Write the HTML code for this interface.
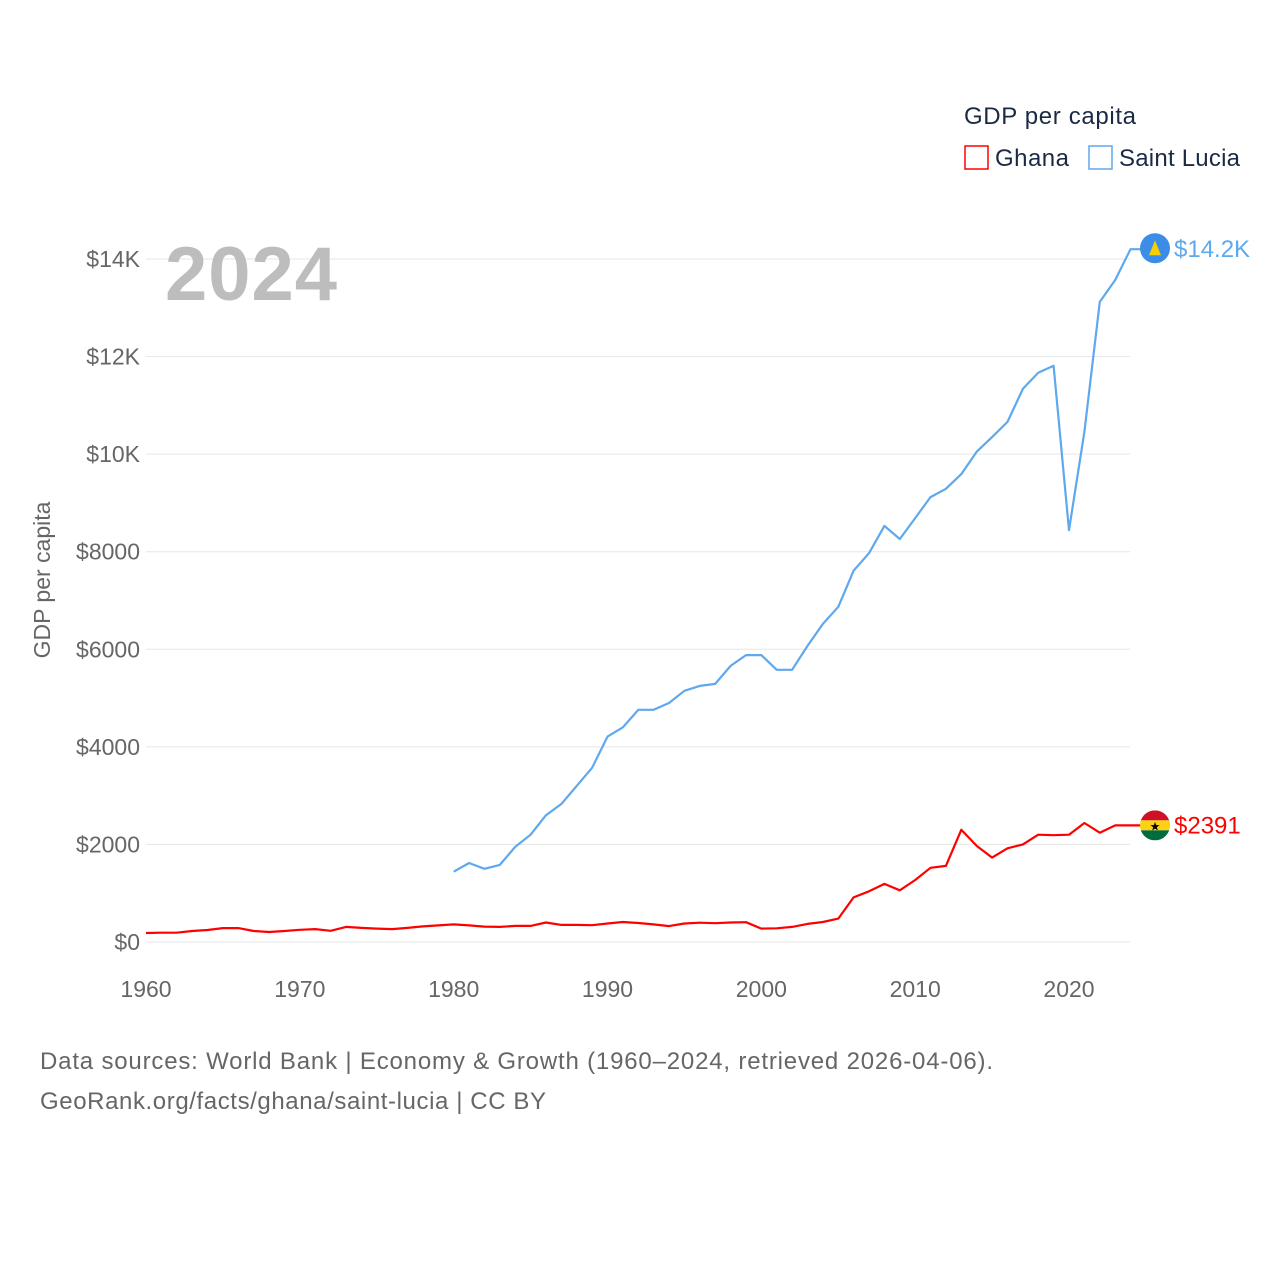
<!DOCTYPE html>
<html><head><meta charset="utf-8"><style>
body{margin:0;background:#fff;width:1280px;height:1280px;overflow:hidden;font-family:"Liberation Sans",sans-serif}
</style></head><body>
<svg width="1280" height="1280" xmlns="http://www.w3.org/2000/svg">
<defs><clipPath id="gc"><circle cx="1155" cy="825" r="15"/></clipPath></defs>
<g id="grid"></g>
<g id="yt"></g>
<g id="xt"></g>
<text x="165" y="300" font-size="76" font-weight="bold" fill="#bdbdbd" textLength="172">2024</text>
<text transform="translate(50,580) rotate(-90)" text-anchor="middle" font-size="23" fill="#666">GDP per capita</text>
<g id="lines"></g>
<text x="964" y="124" font-size="24" fill="#1a2a44" textLength="172">GDP per capita</text>
<g><rect x="965" y="146" width="23" height="23" fill="none" stroke="#ff0000" stroke-width="1.5"/><text x="995" y="166" font-size="24" fill="#1a2a44" textLength="74">Ghana</text></g>
<g><rect x="1089" y="146" width="23" height="23" fill="none" stroke="#5ea8ee" stroke-width="1.5"/><text x="1119" y="166" font-size="24" fill="#1a2a44" textLength="121">Saint Lucia</text></g>
<text x="40" y="1069" font-size="24" fill="#666" textLength="953">Data sources: World Bank | Economy &amp; Growth (1960–2024, retrieved 2026-04-06).</text>
<text x="40" y="1109" font-size="24" fill="#666" textLength="506">GeoRank.org/facts/ghana/saint-lucia | CC BY</text>
</svg>
<script>
const years=[];for(let y=1960;y<=2024;y++)years.push(y);
const ghana=[185,190,190,225,245,285,285,225,205,225,250,265,230,310,290,275,265,290,320,340,360,340,315,310,330,330,400,350,350,345,380,410,390,360,325,380,395,385,400,405,275,280,310,370,410,480,915,1040,1190,1060,1270,1520,1560,2300,1970,1730,1920,2000,2200,2190,2200,2440,2240,2390,2391];
const lucia=[null,null,null,null,null,null,null,null,null,null,null,null,null,null,null,null,null,null,null,null,1440,1620,1500,1580,1950,2200,2600,2830,3200,3570,4210,4400,4760,4760,4900,5150,5250,5290,5660,5880,5880,5580,5580,6070,6520,6870,7610,7970,8530,8260,8690,9120,9290,9590,10050,10350,10660,11340,11670,11810,8440,10460,13120,13570,14200];
const yTicks=[0,2000,4000,6000,8000,10000,12000,14000];
const yTickLabels=["$0","$2000","$4000","$6000","$8000","$10K","$12K","$14K"];
const xTicks=[1960,1970,1980,1990,2000,2010,2020];
const NS="http://www.w3.org/2000/svg";
const X=v=>146+(v-1960)*(1069-146)/60;
const Y=v=>942-v*(942-259)/14000;
function el(t,a,p){const e=document.createElementNS(NS,t);for(const k in a)e.setAttribute(k,a[k]);(typeof p==='string'?document.getElementById(p):p).appendChild(e);return e;}
yTicks.forEach((t,i)=>{
 const l=el('line',{x1:146,x2:1130,y1:Y(t),y2:Y(t),stroke:'#e6e6e6','stroke-width':1},'grid');
 
 
 const tx=el('text',{x:140,y:Y(t)+8,'text-anchor':'end','font-size':23,fill:'#666'},'yt');
 tx.textContent=yTickLabels[i];
 
 
});
xTicks.forEach(t=>{
 const tx=el('text',{x:X(t),y:997,'text-anchor':'middle','font-size':23,fill:'#666'},'xt');
 tx.textContent=t;
 
 
});
function line(vals,color,name){
 let d='';vals.forEach((v,i)=>{if(v==null)return;d+=(d?'L':'M')+X(years[i]).toFixed(1)+','+Y(v).toFixed(1);});
 d+='L'+(X(2024)+10).toFixed(1)+','+Y(vals[vals.length-1]).toFixed(1);
 const p=el('path',{d:d,fill:'none',stroke:color,'stroke-width':2.2,'stroke-linejoin':'round'},'lines');
 
 
}
line(ghana,'#ff0000','ghana-line');
line(lucia,'#5ea8ee','saint-lucia-line');
const gl=ghana[ghana.length-1], ll=lucia[lucia.length-1];
const c1=el('circle',{cx:1155,cy:Y(ll)-1,r:15,fill:'#3b8de8'},'lines');


el('polygon',{points:`1155,${Y(ll)-9} 1161,${Y(ll)+6} 1149,${Y(ll)+6}`,fill:'#f5d000'},'lines');
const t1=el('text',{x:1174,y:Y(ll)+8,'font-size':24,fill:'#5ea8ee'},'lines');
t1.textContent='$'+(ll/1000).toFixed(1)+'K';


const gy=Y(gl);
document.querySelector('#gc circle').setAttribute('cy',gy);
const fg=el('g',{'clip-path':'url(#gc)'},'lines');


el('rect',{x:1140,y:gy-15,width:30,height:10,fill:'#ce1126'},fg);
el('rect',{x:1140,y:gy-5,width:30,height:10,fill:'#fcd116'},fg);
el('rect',{x:1140,y:gy+5,width:30,height:10,fill:'#006b3f'},fg);
el('text',{x:1155,y:gy+5,'text-anchor':'middle','font-size':12,fill:'#000'},fg).textContent='★';
const t2=el('text',{x:1174,y:gy+8,'font-size':24,fill:'#ff0000'},'lines');
t2.textContent='$'+gl;


</script>
</body></html>
